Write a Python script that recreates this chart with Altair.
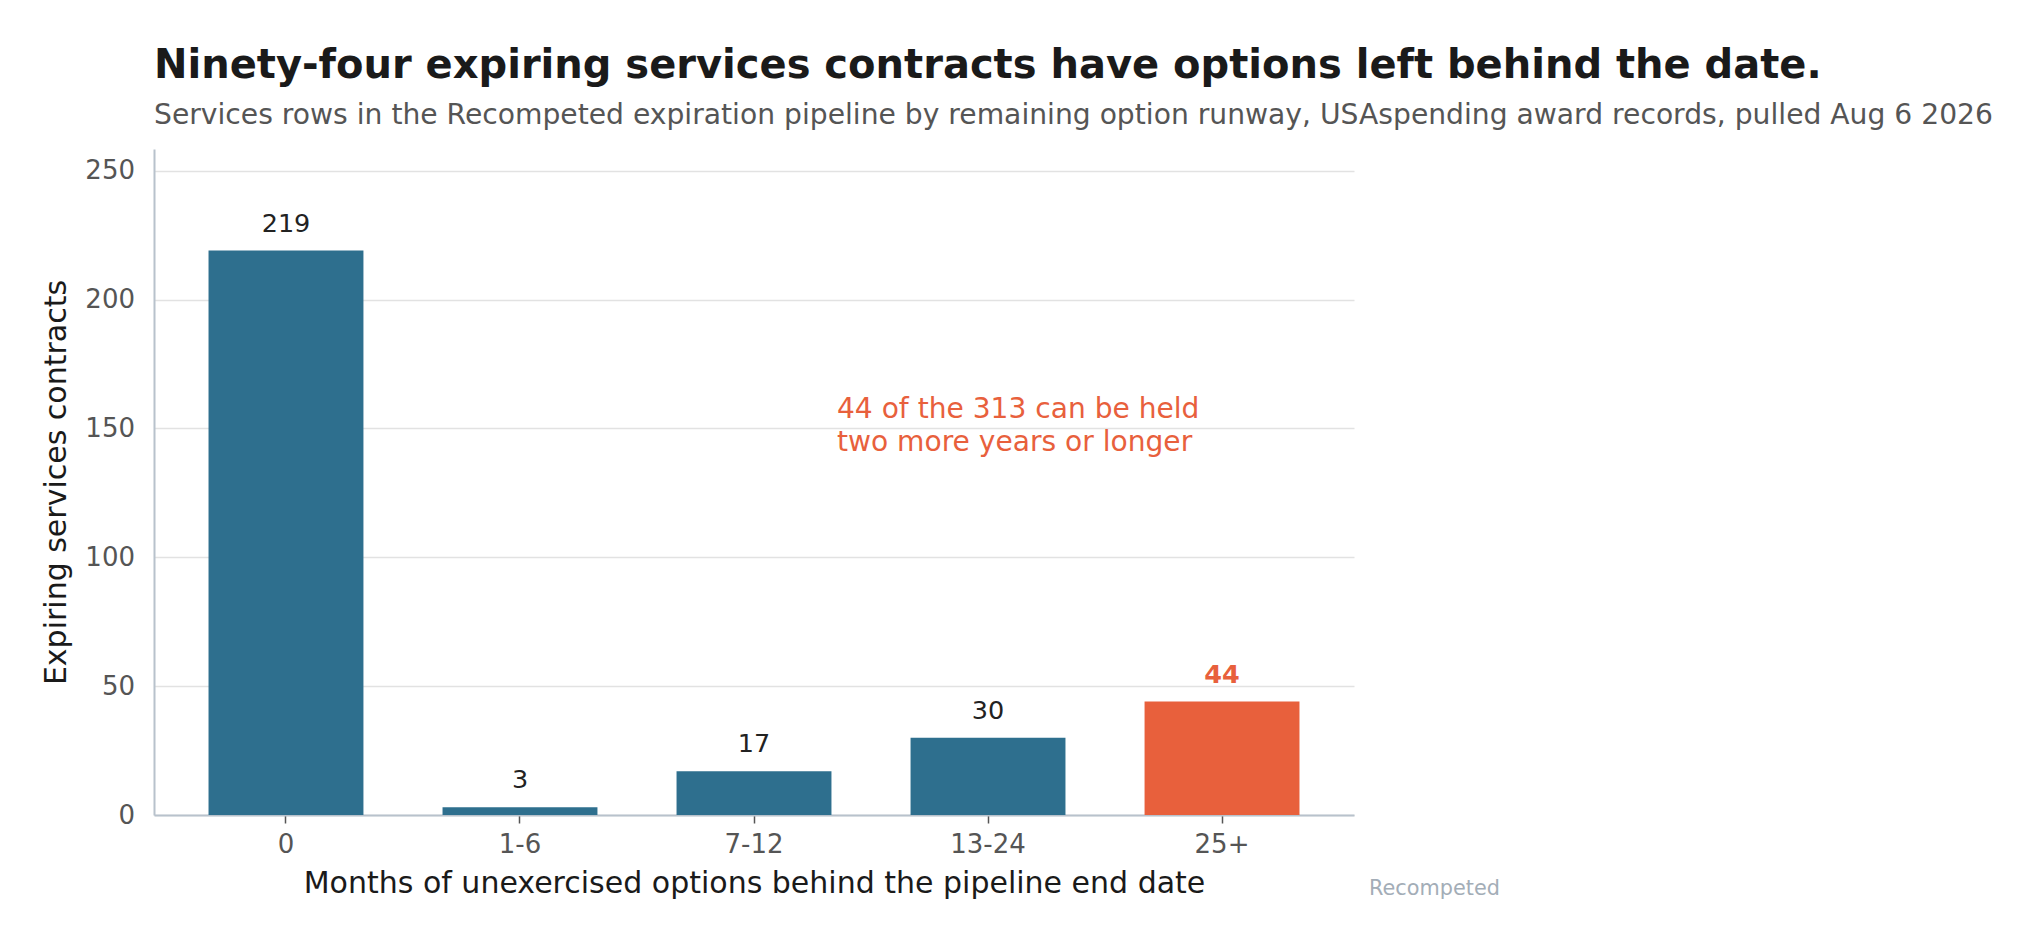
import altair as alt
import pandas as pd

categories = ["0", "1-6", "7-12", "13-24", "25+"]
counts = [219, 3, 17, 30, 44]
groups = ["base", "base", "base", "base", "highlight"]

y_ticks = [0, 50, 100, 150, 200, 250]
y_max = 258.42

title_text = "Ninety-four expiring services contracts have options left behind the date."
subtitle_text = ("Services rows in the Recompeted expiration pipeline by remaining option runway, "
                 "USAspending award records, pulled Aug 6 2026")
note_lines = ["44 of the 313 can be held", "two more years or longer"]
note_anchor_cat = "7-12"
note_anchor_val = 154
credit = "Recompeted"

BLUE = "#2e6f8e"
ORANGE = "#e8603c"
FONT = "DejaVu Sans"

df = pd.DataFrame({"cat": categories, "n": counts, "grp": groups})
note_df = pd.DataFrame({"cat": [note_anchor_cat], "n": [note_anchor_val], "txt": [note_lines]})

x_enc = alt.X(
    "cat:N",
    sort=categories,
    scale=alt.Scale(paddingInner=0.338, paddingOuter=0.233),
    axis=alt.Axis(
        title="Months of unexercised options behind the pipeline end date",
        labelAngle=0,
        labelFontSize=26,
        labelColor="#555555",
        labelPadding=8,
        tickSize=8,
        tickWidth=1.5,
        tickColor="#555555",
        domainColor="#b8c2cc",
        domainWidth=2,
        grid=False,
        titleFontSize=30,
        titleFontWeight="normal",
        titleColor="#1a1a1a",
        titlePadding=11,
    ),
)
y_enc = alt.Y(
    "n:Q",
    scale=alt.Scale(domain=[0, y_max], nice=False),
    axis=alt.Axis(
        title="Expiring services contracts",
        values=y_ticks,
        grid=True,
        gridColor="#e2e2e2",
        gridWidth=1.3,
        ticks=False,
        tickSize=0,
        labelPadding=19.5,
        labelFontSize=26,
        labelColor="#555555",
        domainColor="#b8c2cc",
        domainWidth=2,
        titleFontSize=30,
        titleFontWeight="normal",
        titleColor="#1a1a1a",
        titlePadding=13,
    ),
)

color_scale = alt.Scale(domain=["base", "highlight"], range=[BLUE, ORANGE])

bars = alt.Chart(df).mark_bar().encode(
    x=x_enc,
    y=y_enc,
    color=alt.Color("grp:N", scale=color_scale, legend=None),
)

labels_base = alt.Chart(df).transform_filter(alt.datum.grp == "base").mark_text(
    font=FONT, fontSize=25.5, color="#222222", baseline="alphabetic", dy=-19
).encode(x=alt.X("cat:N", sort=categories), y="n:Q", text="n:Q")

labels_hi = alt.Chart(df).transform_filter(alt.datum.grp == "highlight").mark_text(
    font=FONT, fontSize=25.5, fontWeight="bold", color=ORANGE, baseline="alphabetic", dy=-19
).encode(x=alt.X("cat:N", sort=categories), y="n:Q", text="n:Q")

note = alt.Chart(note_df).mark_text(
    font=FONT, fontSize=28.1, color=ORANGE, align="left", baseline="alphabetic",
    dx=83, lineHeight=32.4
).encode(x=alt.X("cat:N", sort=categories), y="n:Q", text="txt")

credit_mark = alt.Chart(note_df).mark_text(
    font=FONT, fontSize=20.8, color="#a3adb7", align="left", baseline="alphabetic"
).encode(x=alt.value(1215), y=alt.value(746), text=alt.value(credit))

chart = alt.layer(bars, labels_base, labels_hi, note, credit_mark).properties(
    width=1200,
    height=666,
    autosize=alt.AutoSizeParams(type="none"),
    padding={"left": 146, "top": 141, "right": 660, "bottom": 110},
    title=alt.TitleParams(
        text=title_text,
        subtitle=subtitle_text,
        anchor="start",
        frame="group",
        font=FONT,
        fontSize=40,
        fontWeight="bold",
        color="#1a1a1a",
        subtitleFont=FONT,
        subtitleFontSize=28.2,
        subtitleColor="#555555",
        subtitlePadding=15.6,
        offset=20,
    ),
).configure(font=FONT).configure_view(stroke=None)

chart.save("out.html", embed_options={"renderer": "svg", "actions": False})
